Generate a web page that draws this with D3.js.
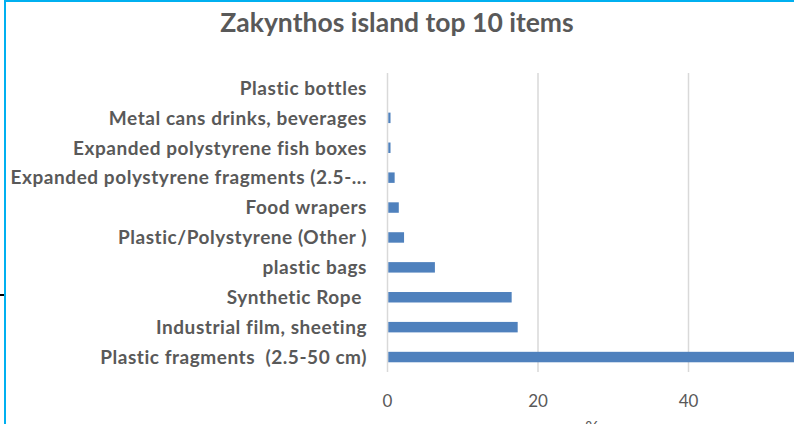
<!DOCTYPE html>
<html>
<head>
<meta charset="utf-8">
<script src="https://cdn.jsdelivr.net/npm/d3@7"></script>
<style>
  body { margin: 0; background: #fff; }
  text { font-family: Lato, "Open Sans", sans-serif; fill: #595959; white-space: pre; }
</style>
</head>
<body>
<svg id="chart" width="794" height="424"></svg>
<script>
// categories top to bottom, values in %
var items = [
    "Plastic bottles",
    "Metal cans drinks, beverages",
    "Expanded polystyrene fish boxes",
    "Expanded polystyrene fragments (2.5-...",
    "Food wrapers",
    "Plastic/Polystyrene (Other )",
    "plastic bags",
    "Synthetic Rope ",
    "Industrial film, sheeting",
    "Plastic fragments  (2.5-50 cm)"
];
var percent = [0, 0.4, 0.4, 0.95, 1.5, 2.2, 6.3, 16.5, 17.3, 56];
var xTicks = [0, 20, 40];

var width = 794, height = 424;
var plotLeft = 387.5, plotTop = 73, plotBottom = 372;

var svg = d3.select("#chart");

svg.append("rect")
    .attr("width", width)
    .attr("height", height)
    .attr("fill", "#fff");

var x = d3.scaleLinear()
    .domain([0, 20])
    .range([plotLeft, plotLeft + 150.5]);

var y = d3.scaleBand()
    .domain(items)
    .range([plotTop, plotBottom])
    .paddingInner(0.65)
    .paddingOuter(0.325);

// gridlines
svg.selectAll("line.grid")
    .data(xTicks)
    .enter()
    .append("line")
    .attr("class", "grid")
    .attr("x1", (d) => x(d))
    .attr("x2", (d) => x(d))
    .attr("y1", plotTop)
    .attr("y2", plotBottom)
    .attr("stroke", "#d9d9d9")
    .attr("stroke-width", 1.5);

// bars
svg.selectAll("rect.bar")
    .data(items)
    .enter()
    .append("rect")
    .attr("class", "bar")
    .attr("x", x(0) + 0.8)
    .attr("y", (d) => y(d))
    .attr("width", (d, i) => Math.max(0, x(percent[i]) - x(0) - 0.8))
    .attr("height", y.bandwidth())
    .attr("fill", "#4f81bd");

// category labels
svg.selectAll("text.cat")
    .data(items)
    .enter()
    .append("text")
    .attr("class", "cat")
    .attr("x", 367)
    .attr("y", (d) => y(d) + y.bandwidth() / 2)
    .attr("dy", "0.36em")
    .attr("text-anchor", "end")
    .attr("font-size", 19)
    .attr("letter-spacing", 0.55)
    .attr("font-weight", "bold")
    .text((d) => d);

// x tick labels
svg.selectAll("text.tick")
    .data(xTicks)
    .enter()
    .append("text")
    .attr("class", "tick")
    .attr("x", (d) => x(d))
    .attr("y", 407)
    .attr("text-anchor", "middle")
    .attr("font-size", 17)
    .text((d) => d);

// axis title (cut off at the bottom edge, as in the source)
svg.append("text")
    .attr("x", 592)
    .attr("y", 434)
    .attr("text-anchor", "middle")
    .attr("font-size", 17)
    .text("%");

// chart title
svg.append("text")
    .attr("x", 397)
    .attr("y", 32)
    .attr("text-anchor", "middle")
    .attr("font-size", 26.5)
    .attr("font-weight", "bold")
    .text("Zakynthos island top 10 items");

// frame edges of the cropped chart box
svg.append("line")
    .attr("x1", 5).attr("x2", 5)
    .attr("y1", 0).attr("y2", height)
    .attr("stroke", "#00b0f0")
    .attr("stroke-width", 2);

svg.append("line")
    .attr("x1", 5).attr("x2", width)
    .attr("y1", 1).attr("y2", 1)
    .attr("stroke", "#00b0f0")
    .attr("stroke-width", 2);

svg.append("line")
    .attr("x1", 0).attr("x2", 4)
    .attr("y1", 295).attr("y2", 295)
    .attr("stroke", "#000")
    .attr("stroke-width", 2);
</script>
</body>
</html>
